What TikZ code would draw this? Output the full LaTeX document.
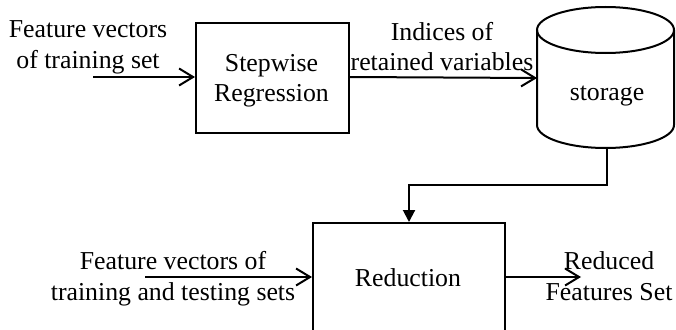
\documentclass[tikz,border=0pt]{standalone}
\usepackage{fontspec}
\setmainfont{Liberation Serif}
\usetikzlibrary{arrows.meta}
\begin{document}
\begin{tikzpicture}[x=1pt,y=-1pt,
  lbl/.style={font=\fontsize{25.8}{30.5}\selectfont, align=center, inner sep=0pt, anchor=base},
  blk/.style={draw, line width=2pt, anchor=north west, inner sep=0pt},
  flow/.style={line width=2pt, -{Straight Barb[length=14pt,width=17pt,line width=2pt]}},
  feed/.style={line width=2pt, -{Triangle[length=12pt,width=12pt]}}]
  \useasboundingbox (0,0) rectangle (676,329);
  \clip (0,0) rectangle (676,329);

  % processing blocks
  \node[blk, minimum width=153pt, minimum height=110pt] (st) at (195,22) {};
  \node[blk, minimum width=192pt, minimum height=130pt] (red) at (312,222) {};

  % storage cylinder
  \coordinate (cylc) at (605.5,30);
  \draw[line width=2pt] (cylc) ellipse [x radius=68.5pt, y radius=23pt];
  \draw[line width=2pt] (537,30) -- (537,125) arc[start angle=180, end angle=360, x radius=68.5pt, y radius=23pt] -- (674,30);
  \coordinate (cylw) at (537,78);
  \coordinate (cylbot) at (607,148);

  % texts (base anchor sits on the last line)
  \node[lbl] (sttxt) at (271.5,101.7) {Stepwise\\Regression};
  \node[lbl] (redtxt) at (408,286.7) {Reduction};
  \node[lbl] (cyltxt) at (607,100) {storage};
  \node[lbl] (in1txt) at (88,68.3) {Feature vectors\\of training set};
  \node[lbl] (idxtxt) at (442,70.7) {Indices of\\retained variables};
  \node[lbl] (in2txt) at (173,300) {Feature vectors of\\training and testing sets};
  \node[lbl] (outtxt) at (609,300) {Reduced\\Features Set};

  % connectors
  \coordinate (in1) at (93,77);
  \coordinate (in2) at (145,277);
  \coordinate (out) at (581,277);
  \draw[flow] (in1) -- (st.west |- in1);
  \draw[flow] (st.east |- in1) -- (cylw);
  \draw[feed] (cylbot) -- ++(0,37) -| (red.north);
  \draw[flow] (in2) -- (red.west |- in2);
  \draw[flow] (red.east |- in2) -- (out);
\end{tikzpicture}
\end{document}
